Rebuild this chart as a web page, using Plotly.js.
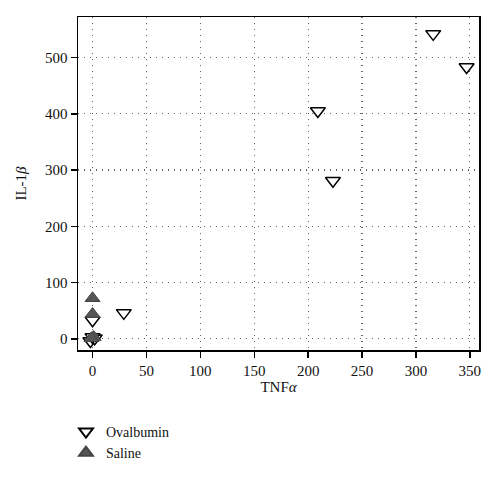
<!DOCTYPE html>
<html>
<head>
<meta charset="utf-8">
<script src="https://cdn.plot.ly/plotly-3.0.1.min.js"></script>
<style>
  body { margin: 0; background: #fff; }
  #chart { width: 500px; height: 477px; }
</style>
</head>
<body>
<div id="chart"></div>
<script>
// values
var ovalTnf = [316, 347, 209, 223, 29, 0, -2, 2, 0]
var ovalIl1 = [542, 483, 405, 281, 46, 33, -4, 1, 3]
var salineTnf = [0, 0, 1, -1]
var salineIl1 = [72, 44, 3, 1]

var xTicks = [0, 50, 100, 150, 200, 250, 300, 350]
var yTicks = [0, 100, 200, 300, 400, 500]

var serif = 'Liberation Serif, DejaVu Serif, serif'

var ovalbumin = {
    x: ovalTnf, y: ovalIl1,
    name: 'Ovalbumin',
    mode: 'markers', type: 'scatter',
    marker: {
        symbol: 'triangle-down', size: 13, color: 'white',
        line: {color: 'black', width: 1.5}
    }
}
var saline = {
    x: salineTnf, y: salineIl1,
    name: 'Saline',
    mode: 'markers', type: 'scatter',
    marker: {
        symbol: 'triangle-up', size: 13, color: '#555555',
        line: {color: '#444444', width: 1}
    }
}

var axisCommon = {
    showline: true, mirror: true, linecolor: 'black', linewidth: 1.5,
    ticks: 'outside', ticklen: 6, tickwidth: 1.5, tickcolor: 'black',
    showgrid: true, gridcolor: '#666666', gridwidth: 1.2, griddash: '1px,5px',
    zeroline: false, automargin: false,
    tickfont: {family: serif, size: 15, color: '#111'}
}

var layout = {
    width: 500, height: 477,
    margin: {l: 78, r: 21, t: 17, b: 127, autoexpand: false},
    paper_bgcolor: 'white', plot_bgcolor: 'white',
    font: {family: serif, color: '#111'},
    showlegend: true,
    legend: {
        x: -0.03, y: -0.198, xanchor: 'left', yanchor: 'top',
        orientation: 'v', font: {family: serif, size: 14, color: '#111'},
        itemsizing: 'constant', tracegroupgap: 0
    },
    xaxis: Object.assign({}, axisCommon, {
        range: [-13.5, 358.5], tickvals: xTicks,
        title: {text: 'TNF<i>α</i>', font: {family: serif, size: 15}, standoff: 3}
    }),
    yaxis: Object.assign({}, axisCommon, {
        range: [-20, 572], tickvals: yTicks,
        title: {text: 'IL-1<i>β</i>', font: {family: serif, size: 15}, standoff: 15}
    })
}

Plotly.newPlot('chart', [ovalbumin, saline], layout, {staticPlot: true})
</script>
</body>
</html>
